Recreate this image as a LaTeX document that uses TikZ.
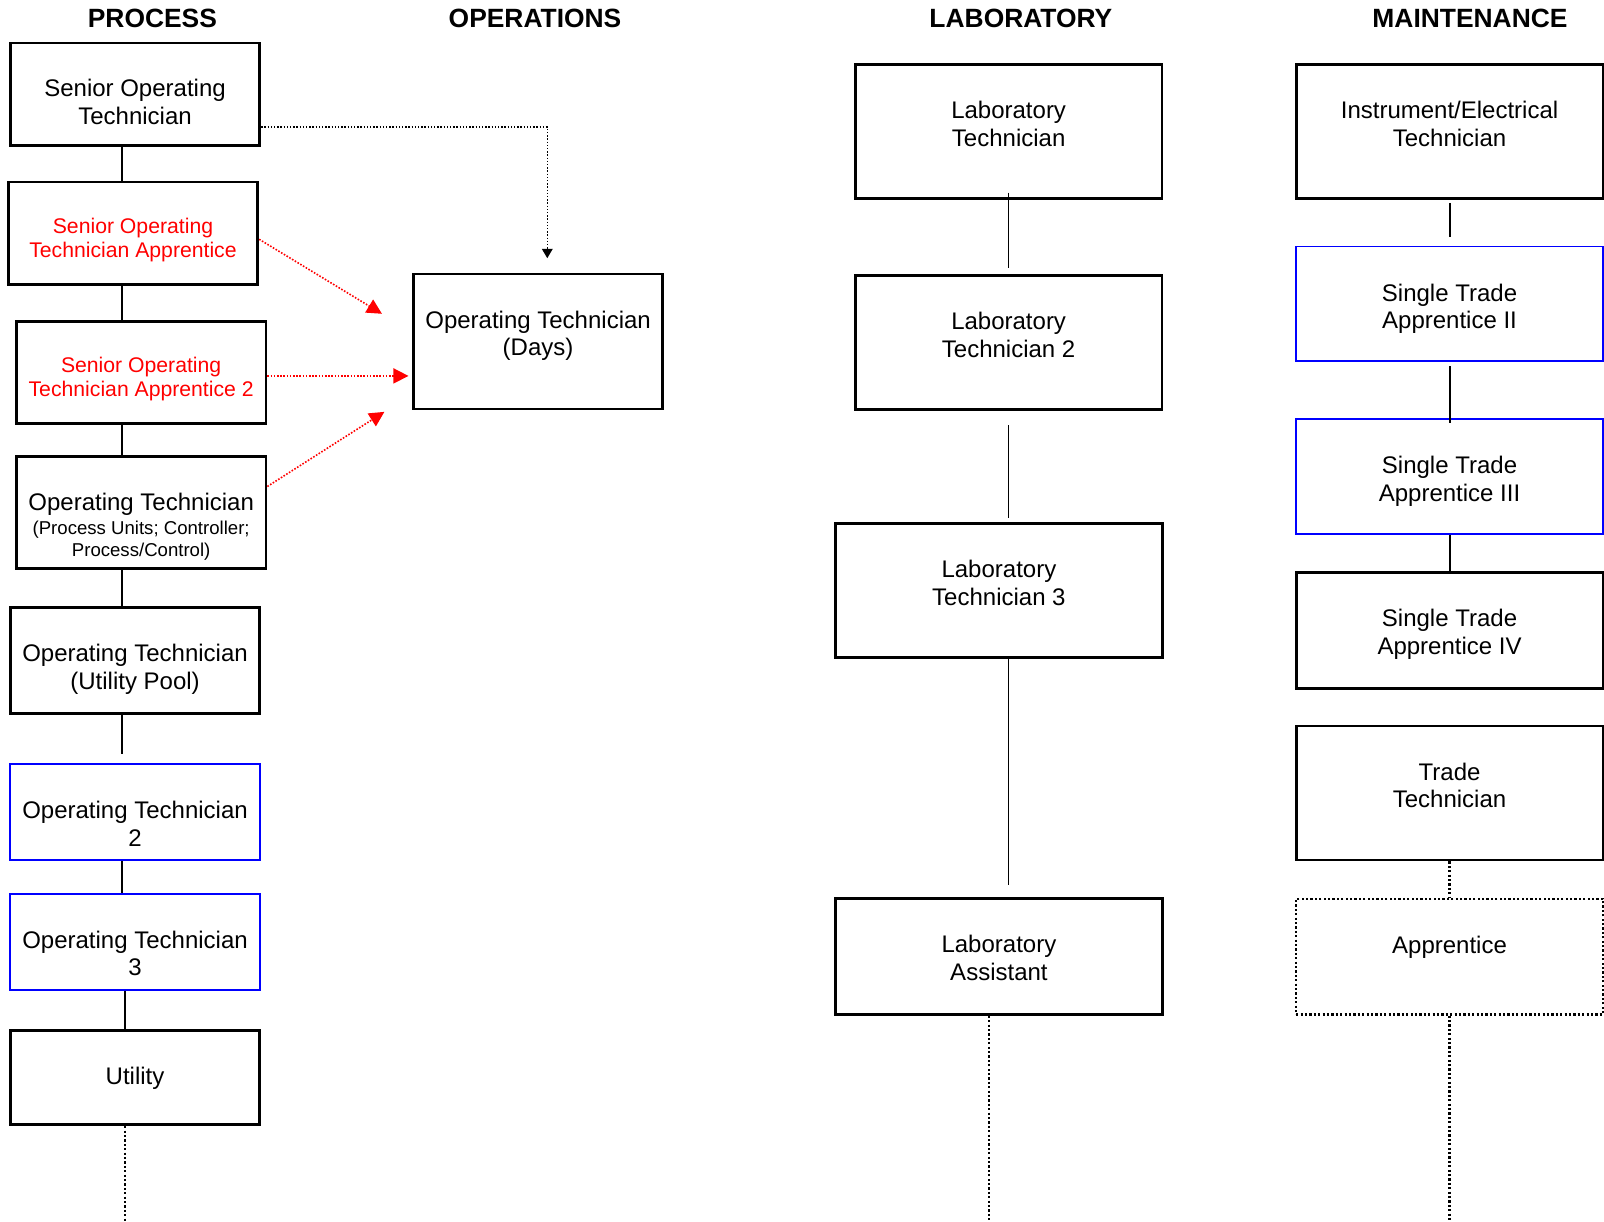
\documentclass[tikz,border=0pt]{standalone}
\usepackage{fontspec}
\setmainfont{Liberation Sans}
\usetikzlibrary{positioning,arrows.meta,calc}

\newcommand{\unitfont}{\fontsize{9.3}{10.7}\selectfont}

\begin{document}
\begin{tikzpicture}[x=0.51148pt,y=-0.51131pt,
  box/.style={draw, line width=1.4pt, inner sep=0pt, minimum width=124.8pt},
  wide/.style={box, minimum width=153.4pt},
  wider/.style={box, minimum width=163.2pt},
  bluebox/.style={draw=blue, line width=0.8pt},
  dotbox/.style={line width=1.1pt, dash pattern=on 1.1pt off 1.1pt},
  role/.style={align=center, inner sep=0pt, font=\fontsize{12}{13.8}\selectfont},
  trainee/.style={role, text=red, font=\fontsize{10.6}{12.2}\selectfont},
  head/.style={inner sep=0pt, font=\fontsize{13.2}{15}\selectfont\bfseries},
  link/.style={line width=1pt},
  thinlink/.style={line width=0.8pt},
  dots/.style={line width=1.1pt, dash pattern=on 1.1pt off 1.1pt},
  dotarrow/.style={line width=0.7pt, dash pattern=on 0.7pt off 0.9pt, -{Triangle[length=4.7pt,width=5.3pt]}},
  redarrow/.style={red, line width=0.8pt, dash pattern=on 0.8pt off 0.8pt, -{Triangle[length=7.5pt,width=7.5pt]}}]
\useasboundingbox (0,0) rectangle (1568,1194);

% column heads
\node[head] (hproc) at (149,18) {PROCESS};
\node[head] (hops) at (523,18) {OPERATIONS};
\node[head] (hlab) at (998,18) {LABORATORY};
\node[head] (hmnt) at (1437,18) {MAINTENANCE};

% process
\node[box, minimum height=51.1pt] (proc1) at (132,92) {};
\node[role, below=18.8pt of proc1.north] (proc1t) {Senior Operating\\Technician};
\node[box, minimum height=51.1pt] (proc2) at (130,228) {};
\node[trainee, below=18.5pt of proc2.north] (proc2t) {Senior Operating\\Technician Apprentice};
\node[box, minimum height=51.1pt] (proc3) at (138,364) {};
\node[trainee, below=18.5pt of proc3.north] (proc3t) {Senior Operating\\Technician Apprentice 2};
\node[box, minimum height=56.2pt] (proc4) at (138,501) {};
\node[role, below=18.8pt of proc4.north] (proc4t) {Operating Technician\\[-1.5pt]{\unitfont (Process Units; Controller;}\\[-3.1pt]{\unitfont Process/Control)}};
\node[box, minimum height=53.2pt] (proc5) at (132,646) {};
\node[role, below=18.8pt of proc5.north] (proc5t) {Operating Technician\\(Utility Pool)};
\node[box, bluebox, minimum height=48.1pt] (proc6) at (132,794) {};
\node[role, below=18.8pt of proc6.north] (proc6t) {Operating Technician\\2};
\node[box, bluebox, minimum height=48.1pt] (proc7) at (132,921) {};
\node[role, below=18.8pt of proc7.north] (proc7t) {Operating Technician\\3};
\node[box, minimum height=47pt] (proc8) at (132,1054) {};
\node[role, below=18.8pt of proc8.north] (proc8t) {Utility};

% operations
\node[box, minimum height=67.5pt] (ops1) at (526,334) {};
\node[role, below=18.8pt of ops1.north] (ops1t) {Operating Technician\\(Days)};

% laboratory
\node[wide, minimum height=67pt] (lab1) at (986,128.5) {};
\node[role, below=18.8pt of lab1.north] (lab1t) {Laboratory\\Technician};
\node[wide, minimum height=67pt] (lab2) at (986,335) {};
\node[role, below=18.8pt of lab2.north] (lab2t) {Laboratory\\Technician 2};
\node[wider, minimum height=67pt] (lab3) at (976.5,577.5) {};
\node[role, below=18.8pt of lab3.north] (lab3t) {Laboratory\\Technician 3};
\node[wider, minimum height=57.8pt] (lab4) at (976.5,935.5) {};
\node[role, below=18.8pt of lab4.north] (lab4t) {Laboratory\\Assistant};

% maintenance
\node[wide, minimum height=67pt] (mnt1) at (1417,128.5) {};
\node[role, below=18.8pt of mnt1.north] (mnt1t) {Instrument/Electrical\\Technician};
\node[wide, bluebox, minimum height=57.3pt] (mnt2) at (1417,297) {};
\node[role, below=18.8pt of mnt2.north] (mnt2t) {Single Trade\\Apprentice II};
\node[wide, bluebox, minimum height=57.3pt] (mnt3) at (1417,466) {};
\node[role, below=18.8pt of mnt3.north] (mnt3t) {Single Trade\\Apprentice III};
\node[wide, minimum height=57.8pt] (mnt4) at (1417,616.5) {};
\node[role, below=18.8pt of mnt4.north] (mnt4t) {Single Trade\\Apprentice IV};
\node[wide, minimum height=67pt] (mnt5) at (1417,775.5) {};
\node[role, below=18.8pt of mnt5.north] (mnt5t) {Trade\\Technician};
\node[wide, dotbox, minimum height=57.8pt] (mnt6) at (1417,935.5) {};
\node[role, below=18.8pt of mnt6.north] (mnt6t) {Apprentice};

% free ends and spines
\coordinate (sp) at (119,0);
\coordinate (sq) at (122,0);
\coordinate (sl) at (986,0);
\coordinate (gapP) at (119,737);
\coordinate (endP) at (122,1194);
\coordinate (endL) at (967,1194);
\coordinate (endM) at (1417,1194);

\draw[link] (proc1.south -| sp) -- (proc2.north -| sp);
\draw[link] (proc2.south -| sp) -- (proc3.north -| sp);
\draw[link] (proc3.south -| sp) -- (proc4.north -| sp);
\draw[link] (proc4.south -| sp) -- (proc5.north -| sp);
\draw[link] (proc5.south -| sp) -- (gapP);
\draw[link] (proc6.south -| sp) -- (proc7.north -| sp);
\draw[link] (proc7.south -| sq) -- (proc8.north -| sq);
\draw[dots] (proc8.south -| sq) -- (endP);

\draw[thinlink] ($(lab1.south)+(0,-7)$) -- ($(lab2.north)+(0,-6)$);
\draw[thinlink] ($(lab2.south)+(0,14)$) -- ($(lab3.north -| sl)+(0,-4)$);
\draw[thinlink] (lab3.south -| sl) -- ($(lab4.north -| sl)+(0,-12)$);
\draw[dots] (lab4.south -| endL) -- (endL);

\draw[link] ($(mnt1.south)+(0,3)$) -- ($(mnt2.north)+(0,-8)$);
\draw[link] ($(mnt2.south)+(0,4.5)$) -- ($(mnt3.north)+(0,4.5)$);
\draw[link] (mnt3.south) -- (mnt4.north);
\draw[dots] (mnt5.south) -- (mnt6.north);
\draw[dots] (mnt6.south) -- (endM);

% moves to days
\draw[dotarrow, shorten >=7.2pt] ($(proc1.east)+(0,32)$) -| ($(ops1.north)+(9,0)$);
\draw[redarrow, shorten >=17.5pt] ($(proc2.east)+(0,6)$) -- ($(ops1.west)+(0,-9.4)$);
\draw[redarrow, shorten >=1.7pt] ($(proc3.east)+(0,3.6)$) -- ($(ops1.west)+(0,33.6)$);
\draw[redarrow, shorten >=16.3pt] ($(proc4.east)+(0,-25.3)$) -- ($(ops1.west)+(0,51.6)$);
\end{tikzpicture}
\end{document}
